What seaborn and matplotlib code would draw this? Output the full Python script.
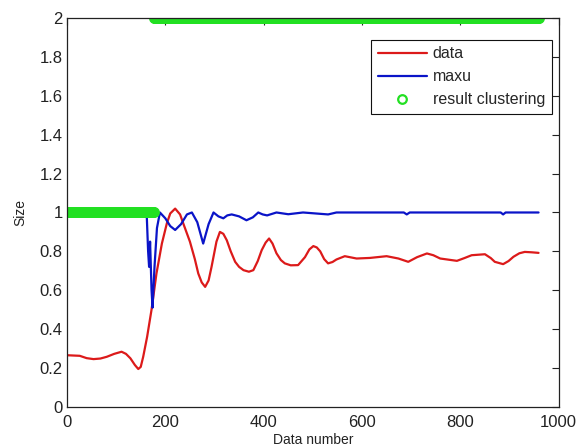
import numpy as np
import pandas as pd
import matplotlib
matplotlib.use("Agg")
import matplotlib.pyplot as plt
import seaborn as sns

# ---- data ----
red_x = [0, 26, 40, 54, 68, 81, 96, 111, 120, 129, 138, 145, 150, 155, 163, 172, 182, 193, 203,
         210, 220, 230, 237, 250, 260, 267, 274, 281, 288, 294, 304, 311, 318, 325, 333, 342, 350,
         359, 370, 379, 388, 396, 404, 411, 418, 426, 435, 443, 455, 470, 484, 493, 501, 508,
         515, 523, 531, 540, 548, 565, 589, 616, 650, 674, 694, 712, 732, 745, 759, 793, 808,
         823, 850, 862, 870, 887, 898, 908, 920, 931, 945, 959]
red_y = [0.265, 0.262, 0.25, 0.245, 0.248, 0.257, 0.272, 0.283, 0.272, 0.249, 0.215, 0.194,
         0.205, 0.257, 0.36, 0.50, 0.686, 0.84, 0.943, 0.995, 1.02, 0.99, 0.94, 0.85, 0.76,
         0.686, 0.64, 0.617, 0.65, 0.72, 0.85, 0.90, 0.89, 0.857, 0.80, 0.746, 0.72, 0.703,
         0.695, 0.703, 0.75, 0.806, 0.845, 0.866, 0.84, 0.79, 0.755, 0.738, 0.728, 0.729, 0.77,
         0.81, 0.827, 0.82, 0.80, 0.76, 0.738, 0.745, 0.758, 0.775, 0.763, 0.766, 0.775, 0.763,
         0.746, 0.77, 0.789, 0.78, 0.763, 0.751, 0.765, 0.78, 0.785, 0.765, 0.746, 0.734, 0.75,
         0.772, 0.79, 0.797, 0.795, 0.792]

blue_x = [0, 162, 165, 167, 169, 172, 174, 178, 183, 189, 200, 210, 220, 232, 244, 254, 265,
          277, 288, 298, 308, 318, 326, 335, 350, 365, 378, 389, 398, 407, 426, 450, 480, 531,
          548, 685, 691, 697, 882, 887, 892, 959]
blue_y = [1.0, 1.0, 0.8, 0.72, 0.85, 0.6, 0.51, 0.72, 0.92, 1.0, 0.97, 0.93, 0.91, 0.94, 0.99,
          1.0, 0.95, 0.84, 0.94, 1.0, 0.98, 0.97, 0.985, 0.99, 0.98, 0.96, 0.975, 1.0, 0.99,
          0.985, 1.0, 0.991, 1.0, 0.99, 1.0, 1.0, 0.99, 1.0, 1.0, 0.99, 1.0, 1.0]

# clustering result as run lengths: cluster label and number of samples
cluster_labels = [1, 2]
cluster_counts = [177, 783]

x_ticks = [0, 200, 400, 600, 800, 1000]
y_ticks = [0, 0.2, 0.4, 0.6, 0.8, 1, 1.2, 1.4, 1.6, 1.8, 2]
y_tick_labels = ["0", "0.2", "0.4", "0.6", "0.8", "1", "1.2", "1.4", "1.6", "1.8", "2"]

# ---- build frames ----
df_red = pd.DataFrame({"x": red_x, "y": red_y})
df_blue = pd.DataFrame({"x": blue_x, "y": blue_y})
clu = np.repeat(cluster_labels, cluster_counts)
df_clu = pd.DataFrame({"x": np.arange(len(clu)), "y": clu})

sns.set_style("white")
plt.rcParams["font.family"] = ["Liberation Sans", "DejaVu Sans"]

fig = plt.figure(figsize=(5.87, 4.48), dpi=100)
ax = fig.add_axes([0.1141, 0.0922, 0.8377, 0.867])

sns.lineplot(data=df_red, x="x", y="y", ax=ax, color="#dc1a1a", linewidth=1.6,
             label="data", sort=False, errorbar=None)
sns.lineplot(data=df_blue, x="x", y="y", ax=ax, color="#0a14c8", linewidth=1.6,
             label="maxu", sort=False, errorbar=None)
sns.lineplot(data=df_clu, x="x", y="y", ax=ax, linestyle="none", marker="o",
             markerfacecolor="none", markeredgecolor="#22e022", color="#22e022",
             markersize=6.2, markeredgewidth=1.6, label="result clustering",
             sort=False, errorbar=None)

ax.set_xlim(0, 1000)
ax.set_ylim(0, 2)
ax.set_xticks(x_ticks)
ax.set_xticklabels([str(t) for t in x_ticks])
ax.set_yticks(y_ticks)
ax.set_yticklabels(y_tick_labels)
ax.tick_params(direction="in", length=5, width=0.8, top=True, right=True,
               labelsize=12, labelcolor="#222222", color="#222222")
ax.tick_params(axis="x", pad=6)
ax.tick_params(axis="y", pad=3)
for s in ax.spines.values():
    s.set_visible(True)
    s.set_color("#222222")
    s.set_linewidth(0.9)

ax.set_xlabel("Data number", fontsize=10, color="#222222", labelpad=2)
ax.set_ylabel("Size", fontsize=10, color="#222222", labelpad=9)

leg = ax.legend(loc="upper right", bbox_to_anchor=(0.986, 0.945), borderaxespad=0,
                fontsize=11.5, frameon=True, fancybox=False, framealpha=1,
                edgecolor="#111111", handlelength=3.1, handletextpad=0.35,
                labelspacing=0.5, borderpad=0.42)
leg.get_frame().set_linewidth(0.8)

fig.savefig("out.png", dpi=100)
